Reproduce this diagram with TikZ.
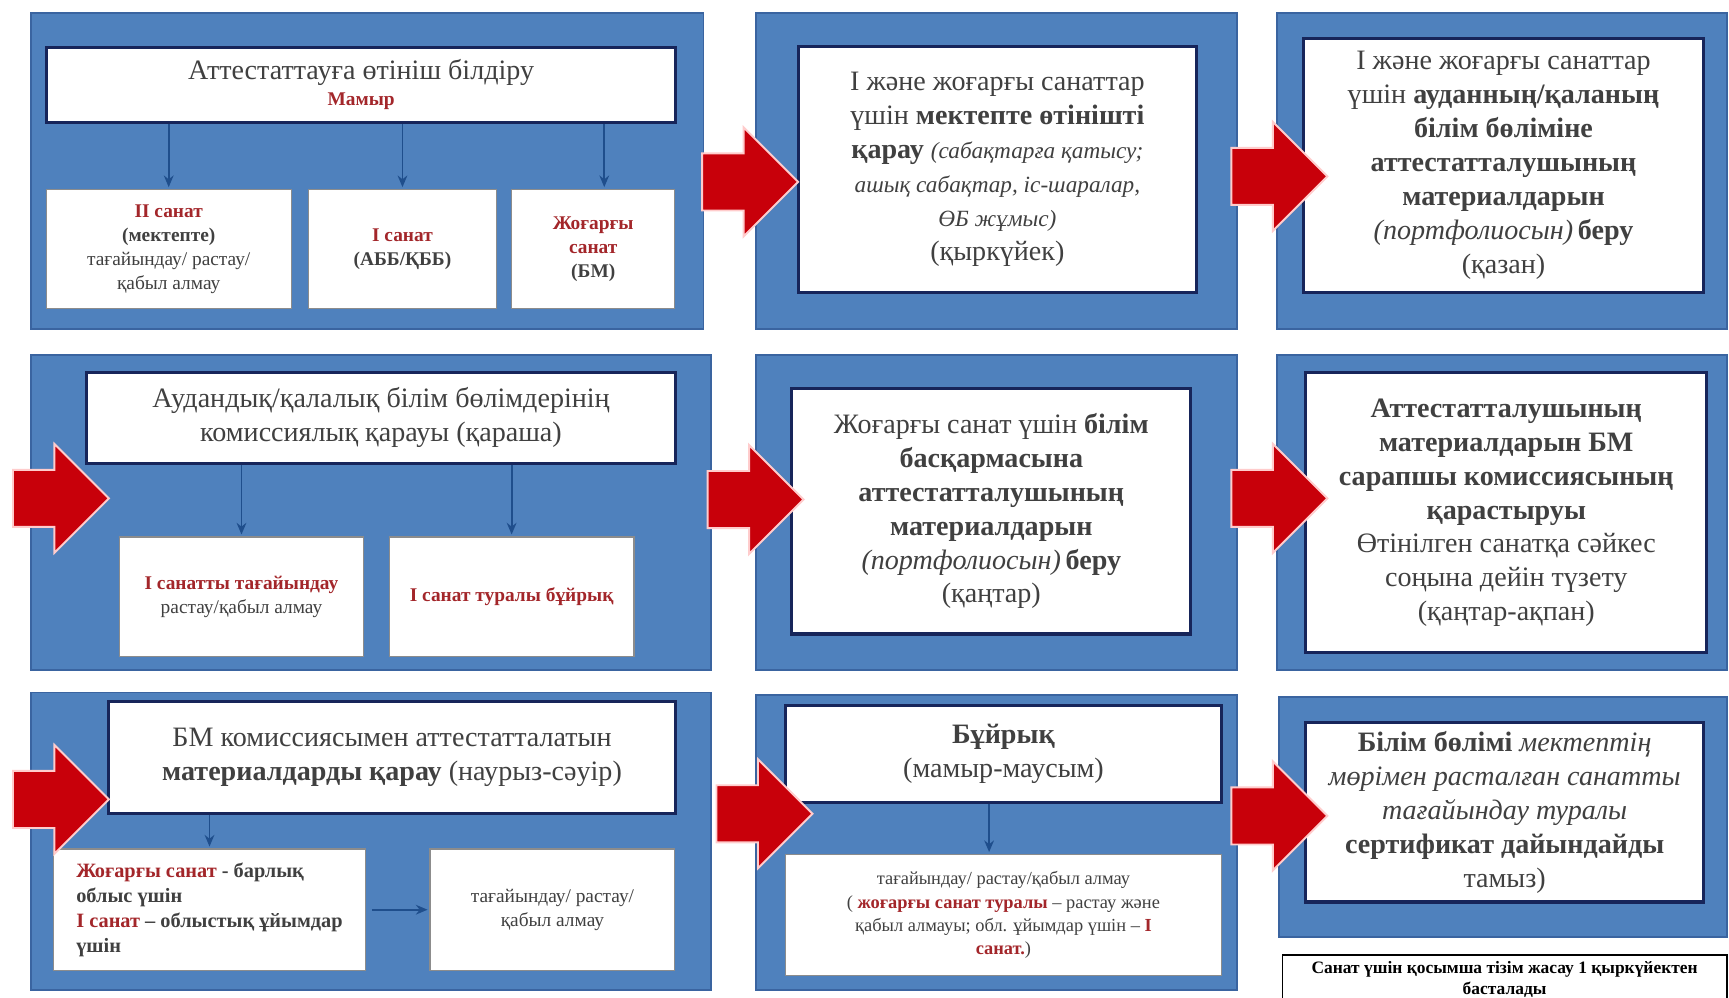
\documentclass[tikz,border=0pt]{standalone}
\usepackage{fontspec}
\setmainfont{Liberation Serif}
\usetikzlibrary{shapes.arrows,fit,arrows.meta}
\definecolor{panelblue}{HTML}{4F81BD}
\definecolor{paneledge}{HTML}{3A64A0}
\definecolor{boxedge}{HTML}{17255A}
\definecolor{arrowred}{HTML}{C8000A}
\definecolor{textgray}{HTML}{404040}
\definecolor{textred}{HTML}{A3262A}
\definecolor{linkblue}{HTML}{1F4E8C}
\newcommand\redbf[1]{{\bfseries\color{textred}#1}}
\newcommand\smallit{\fontsize{12}{14.5}\selectfont\itshape}

\begin{document}
\begin{tikzpicture}[x=0.02cm, y=-0.02cm,
  panel/.style={draw=paneledge, fill=panelblue, line width=1pt, inner sep=0pt},
  stepbox/.style={draw=boxedge, fill=white, line width=1.6pt, inner sep=0pt, align=center,
    text=textgray, font=\fontsize{14.5}{17.5}\selectfont},
  smallbox/.style={draw=black!45, fill=white, line width=0.6pt, inner sep=0pt, align=center,
    text=textgray, font=\fontsize{10}{12.5}\selectfont},
  notebox/.style={draw=black, fill=white, line width=0.8pt, inner sep=0pt, align=center,
    font=\fontsize{9}{11}\selectfont\bfseries},
  flow/.style={single arrow, fill=arrowred, draw=white!80!red, line width=1pt,
    minimum height=1.74cm, single arrow head extend=0.47cm, inner xsep=0pt, inner ysep=0.5cm,
    text height=0pt, text depth=0pt, anchor=tip},
  link/.style={-{Stealth[length=6pt,width=5pt]}, draw=linkblue, line width=1pt, shorten >=1pt}]

\fill[white] (0,0) rectangle (1568,905);
\useasboundingbox (0,0) rectangle (1568,905);

\node[panel, fit={(28,12) (638,298)}] (pA) {};
\node[panel, fit={(686,12) (1122,298)}] (pB) {};
\node[panel, fit={(1158,12) (1566,298)}] (pC) {};
\node[panel, fit={(28,322) (645,608)}] (pD) {};
\node[panel, fit={(686,322) (1122,608)}] (pE) {};
\node[panel, fit={(1158,322) (1566,608)}] (pF) {};
\node[panel, fit={(28,628) (645,898)}] (pG) {};
\node[panel, fit={(686,630) (1122,898)}] (pH) {};
\node[panel, fit={(1160,632) (1566,850)}] (pI) {};

\node[stepbox, minimum width=11.42cm, minimum height=1.36cm] (aTop) at (327.5,77)
  {Аттестаттауға өтініш білдіру\\[-4pt] {\fontsize{10}{12}\selectfont\redbf{Мамыр}}};
\node[smallbox, minimum width=4.44cm, minimum height=2.16cm] (aLeft) at (153,226)
  {\redbf{ІІ санат}\\ \textbf{(мектепте)}\\ тағайындау/ растау/\\ қабыл алмау};
\node[smallbox, minimum width=3.4cm, minimum height=2.16cm] (aMid) at (365,226)
  {\redbf{І санат}\\ \textbf{(АББ/ҚББ)}};
\node[smallbox, minimum width=2.96cm, minimum height=2.16cm] (aRight) at (538,226)
  {\redbf{Жоғарғы}\\ \redbf{санат}\\ \textbf{(БМ)}};

\node[stepbox, minimum width=7.22cm, minimum height=4.46cm] (bBox) at (904.5,153.5)
  {І және жоғарғы санаттар\\
  үшін \textbf{мектепте өтінішті}\\
  \textbf{қарау} {\smallit (сабақтарға қатысу;}\\
  {\smallit ашық сабақтар, іс-шаралар,}\\
  {\smallit ӨБ жұмыс)}\\
  (қыркүйек)};

\node[stepbox, minimum width=7.26cm, minimum height=4.6cm] (cBox) at (1363.5,150)
  {І және жоғарғы санаттар\\
  үшін \textbf{ауданның/қаланың}\\
  \textbf{білім бөліміне}\\
  \textbf{аттестатталушының}\\
  \textbf{материалдарын}\\
  \textit{(портфолиосын)}\,\textbf{беру}\\
  (қазан)};

\node[stepbox, minimum width=10.7cm, minimum height=1.64cm] (dTop) at (345.5,379)
  {Аудандық/қалалық білім бөлімдерінің\\ комиссиялық қарауы (қараша)};
\node[smallbox, minimum width=4.44cm, minimum height=2.16cm] (dLeft) at (219,541)
  {\redbf{І санатты тағайындау}\\ растау/қабыл алмау};
\node[smallbox, minimum width=4.44cm, minimum height=2.16cm] (dRight) at (464,541)
  {\redbf{І санат туралы бұйрық}};

\node[stepbox, minimum width=7.24cm, minimum height=4.46cm] (eBox) at (899,463.5)
  {Жоғарғы санат үшін \textbf{білім}\\
  \textbf{басқармасына}\\
  \textbf{аттестатталушының}\\
  \textbf{материалдарын}\\
  \textit{(портфолиосын)}\,\textbf{беру}\\
  (қаңтар)};

\node[stepbox, minimum width=7.28cm, minimum height=5.08cm] (fBox) at (1366,465)
  {\textbf{Аттестатталушының}\\
  \textbf{материалдарын БМ}\\
  \textbf{сарапшы комиссиясының}\\
  \textbf{қарастыруы}\\
  Өтінілген санатқа сәйкес\\
  соңына дейін түзету\\
  (қаңтар-ақпан)};

\node[stepbox, minimum width=10.3cm, minimum height=2.04cm] (gTop) at (355.5,687)
  {БМ комиссиясымен аттестатталатын\\ \textbf{материалдарды қарау} (наурыз-сәуір)};
\node[smallbox, minimum width=5.66cm, minimum height=2.2cm, align=left,
  font=\fontsize{10.5}{13}\selectfont\bfseries] (gLeft) at (190,825)
  {\redbf{Жоғарғы санат} - барлық\\
   облыс үшін\\
   \redbf{І санат} – облыстық ұйымдар\\
   үшін};
\node[smallbox, minimum width=4.44cm, minimum height=2.2cm] (gRight) at (501,825)
  {тағайындау/ растау/\\ қабыл алмау};

\node[stepbox, minimum width=7.92cm, minimum height=1.76cm] (hTop) at (910,684)
  {\textbf{Бұйрық}\\ (мамыр-маусым)};
\node[smallbox, minimum width=7.92cm, minimum height=2.2cm, font=\fontsize{9.5}{12}\selectfont] (hBottom) at (910,830)
  {тағайындау/ растау/қабыл алмау\\
   ( \redbf{жоғарғы санат туралы} – растау және\\
   қабыл алмауы; обл. ұйымдар үшін – \redbf{І}\\
   \redbf{санат.})};

\node[stepbox, minimum width=7.22cm, minimum height=3.26cm] (iBox) at (1364.5,736.5)
  {\textbf{Білім бөлімі} \textit{мектептің}\\
  \textit{мөрімен расталған санатты}\\
  \textit{тағайындау туралы}\\
  \textbf{сертификат дайындайды}\\
  тамыз)};

\node[notebox, minimum width=8.06cm, minimum height=0.88cm] (note) at (1364.5,888)
  {Санат үшін қосымша тізім жасау 1 қыркүйектен\\ басталады};

\draw[link] (aTop.south -| aLeft.north) -- (aLeft.north);
\draw[link] (aTop.south -| aMid.north) -- (aMid.north);
\draw[link] ([xshift=0.2cm]aTop.south -| aRight.north) -- ([xshift=0.2cm]aRight.north);
\draw[link] (dTop.south -| dLeft.north) -- (dLeft.north);
\draw[link] (dTop.south -| dRight.north) -- (dRight.north);
\draw[link] (gTop.south -| gLeft.north) -- (gLeft.north);
\draw[link, shorten <=3pt] (gLeft.east) -- (gRight.west);
\draw[link] ([xshift=-0.26cm]hTop.south) -- ([xshift=-0.26cm]hBottom.north);

\node[flow] (fAB) at (725,165) {};
\node[flow] (fBC) at (1205,160) {};
\node[flow] (fInD) at (100,452) {};
\node[flow] (fDE) at (730,453) {};
\node[flow] (fEF) at (1205,452) {};
\node[flow] (fInG) at (100,725) {};
\node[flow] (fGH) at (738,738) {};
\node[flow] (fHI) at (1205,740) {};
\end{tikzpicture}
\end{document}
